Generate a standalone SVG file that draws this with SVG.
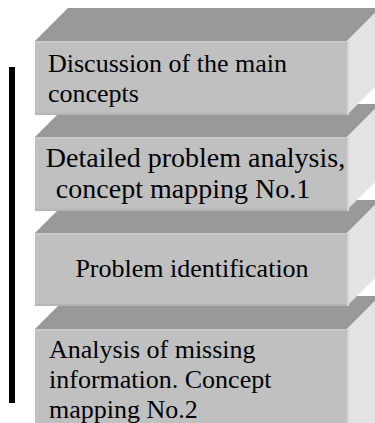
<svg xmlns="http://www.w3.org/2000/svg" width="375" height="423" viewBox="0 0 375 423">
  <style>
    .top { fill: #999999; }
    .front { fill: #c0c0c0; }
    .side { fill: #e3e3e3; }
    .hi { fill: #c9c9c9; }
    .edge { fill: #d6d6d6; }
    .lo { fill: #b5b5b5; }
    .lbl { font-family: "Liberation Serif", "Times New Roman", serif; font-size: 26px; fill: #000000; }
    .big { font-size: 28px; }
  </style>
  <rect width="375" height="423" fill="#ffffff"/>

  <!-- stacked blocks, drawn bottom-up so each front face covers the block behind -->
  <g id="block4">
    <polygon class="top" points="35,329 347,329 380,296 68,296"/>
    <polygon class="side" points="347,329 380,296 380,423 347,423"/>
    <rect class="front" x="35" y="329" width="312" height="94"/>
    <rect class="hi" x="35" y="329" width="312" height="2"/>
    <rect class="edge" x="347" y="329" width="2" height="94"/>
    <text class="lbl" x="49" y="358">Analysis of missing</text>
    <text class="lbl" x="49" y="388">information. Concept</text>
    <text class="lbl" x="49" y="418">mapping No.2</text>
  </g>

  <g id="block3">
    <polygon class="top" points="35,233 347,233 380,200 68,200"/>
    <polygon class="side" points="347,233 380,200 380,273 347,306"/>
    <rect class="front" x="35" y="233" width="312" height="73"/>
    <rect class="hi" x="35" y="233" width="312" height="2"/>
    <rect class="lo" x="35" y="304" width="312" height="2"/>
    <rect class="edge" x="347" y="233" width="2" height="73"/>
    <text class="lbl" x="192" y="277" text-anchor="middle">Problem identification</text>
  </g>

  <g id="block2">
    <polygon class="top" points="35,137 347,137 380,104 68,104"/>
    <polygon class="side" points="347,137 380,104 380,177 347,210"/>
    <rect class="front" x="35" y="137" width="312" height="74"/>
    <rect class="hi" x="35" y="137" width="312" height="2"/>
    <rect class="lo" x="35" y="209" width="312" height="2"/>
    <rect class="edge" x="347" y="137" width="2" height="74"/>
    <text class="lbl big" x="195.5" y="167" text-anchor="middle">Detailed problem analysis,</text>
    <text class="lbl big" x="183" y="198" text-anchor="middle">concept mapping No.1</text>
  </g>

  <g id="block1">
    <polygon class="top" points="35,41 347,41 380,8 68,8"/>
    <polygon class="side" points="347,41 380,8 380,82 347,115"/>
    <rect class="front" x="35" y="41" width="312" height="74"/>
    <rect class="hi" x="35" y="41" width="312" height="2"/>
    <rect class="lo" x="35" y="113" width="312" height="2"/>
    <rect class="edge" x="347" y="41" width="2" height="74"/>
    <text class="lbl" x="48" y="71.5">Discussion of the main</text>
    <text class="lbl" x="48" y="101.5">concepts</text>
  </g>

  <!-- vertical bar spanning the stack -->
  <g id="connectors">
    <rect x="9" y="67" width="6" height="336" fill="#000000"/>
  </g>
</svg>
